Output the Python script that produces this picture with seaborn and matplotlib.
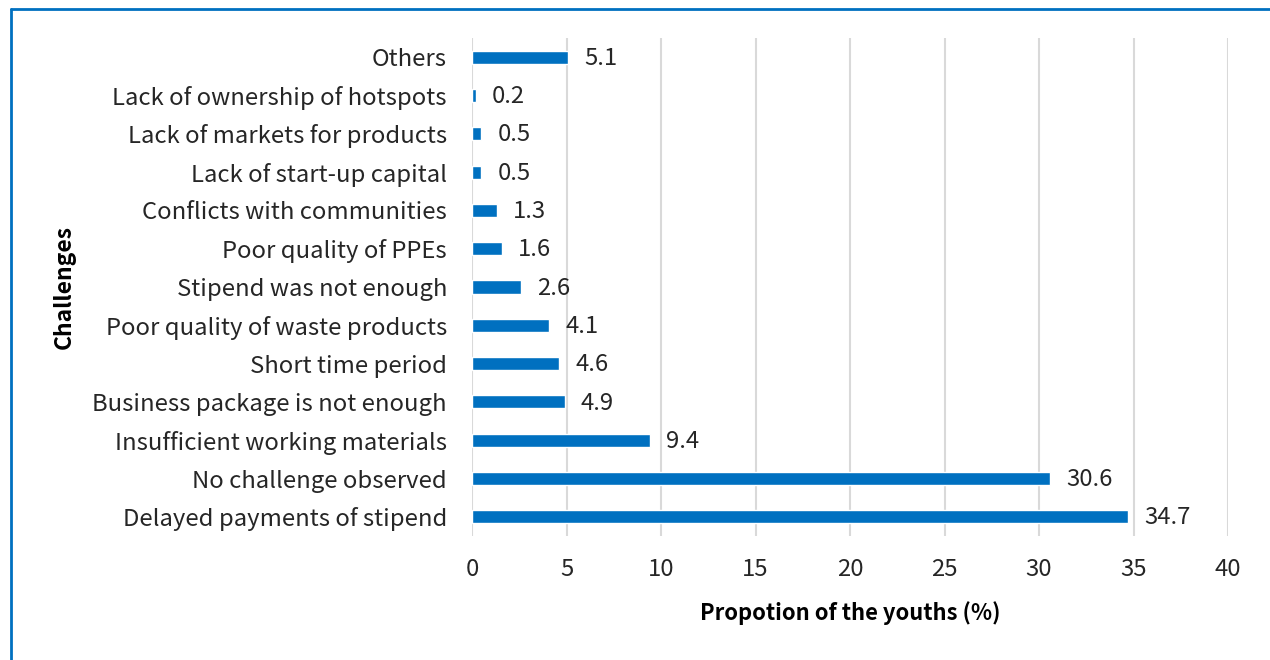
import matplotlib
matplotlib.use("Agg")
import matplotlib.pyplot as plt
import seaborn as sns
import pandas as pd
from matplotlib.lines import Line2D

categories = [
    "Others",
    "Lack of ownership of hotspots",
    "Lack of markets for products",
    "Lack of start-up capital",
    "Conflicts with communities",
    "Poor quality of PPEs",
    "Stipend was not enough",
    "Poor quality of waste products",
    "Short time period",
    "Business package is not enough",
    "Insufficient working materials",
    "No challenge observed",
    "Delayed payments of stipend",
]
values = [5.1, 0.2, 0.5, 0.5, 1.3, 1.6, 2.6, 4.1, 4.6, 4.9, 9.4, 30.6, 34.7]
value_labels = ["5.1", "0.2", "0.5", "0.5", "1.3", "1.6", "2.6", "4.1", "4.6", "4.9", "9.4", "30.6", "34.7"]
x_ticks = [0, 5, 10, 15, 20, 25, 30, 35, 40]

sns.set_theme(style="white")
plt.rcParams['font.family'] = ['Noto Sans CJK JP', 'DejaVu Sans']

df = pd.DataFrame({"Challenge": categories, "Value": values})

fig = plt.figure(figsize=(12.7, 6.6), dpi=100)
ax = fig.add_axes([472/1270, 1-536/660, (1228-472)/1270, (536-38)/660])

sns.barplot(data=df, x="Value", y="Challenge", orient="h", color="#0070C0",
            saturation=1, width=0.34, ax=ax, zorder=3)

FS = 17.2
ax.set_xlim(0, 40)
ax.set_xticks(x_ticks)
ax.set_xticklabels([str(t) for t in x_ticks], fontsize=FS, color="#262626")
ax.tick_params(axis="y", labelsize=FS, labelcolor="#262626", length=0, pad=18)
ax.tick_params(axis="x", length=0, pad=16)
ax.grid(axis="x", color="#D9D9D9", linewidth=1.5, zorder=0)
ax.grid(axis="y", visible=False)
for s in ax.spines.values():
    s.set_visible(False)

for i, (v, lab) in enumerate(zip(values, value_labels)):
    ax.text(v + 0.85, i + 0.03, lab, va="center", ha="left", fontsize=FS, color="#262626")

ax.set_xlabel("Propotion of the youths (%)", fontsize=15.8, fontweight="bold", color="black", labelpad=14)
ax.set_ylabel("Challenges", fontsize=16.5, fontweight="bold", color="black")
ax.yaxis.set_label_coords(-396/756, 0.5)

fig.add_artist(Line2D([11/1270, 11/1270], [0, 1-9/660], transform=fig.transFigure, color="#0070C0", linewidth=2))
fig.add_artist(Line2D([11/1270, 1], [1-9/660, 1-9/660], transform=fig.transFigure, color="#0070C0", linewidth=2))

fig.savefig("out.png", dpi=100)
